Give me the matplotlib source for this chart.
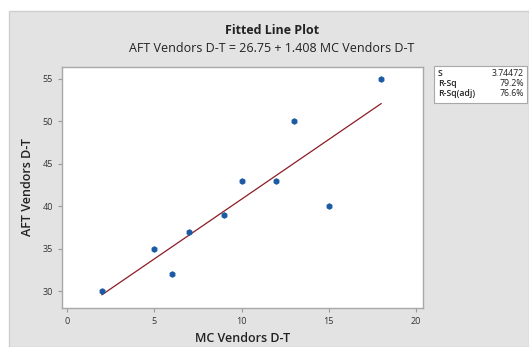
import matplotlib

matplotlib.use("Agg")
import matplotlib.pyplot as plt
import numpy as np
from matplotlib.patches import Rectangle

# dados
mc_vendors = [2, 5, 6, 7, 9, 10, 12, 13, 15, 18]
aft_vendors = [30, 35, 32, 37, 39, 43, 43, 50, 40, 55]
x_ticks = [0, 5, 10, 15, 20]
y_ticks = [30, 35, 40, 45, 50, 55]
stat_names = ["S", "R-Sq", "R-Sq(adj)"]
stat_values = ["3.74472", "79.2%", "76.6%"]

plt.rcParams["font.family"] = ["Open Sans", "DejaVu Sans"]

W, H = 529, 347
fig = plt.figure(figsize=(W / 100, H / 100), dpi=100, facecolor="white")

# painel cinza de fundo
fig.patches.append(Rectangle((9 / W, 0), 1 - 9 / W, 1 - 11 / H, transform=fig.transFigure,
                             facecolor="#e3e3e3", edgecolor="#cfcfcf", lw=1.0, zorder=-1))

ax = fig.add_axes([62 / W, (H - 308) / H, (423 - 62) / W, (308 - 67) / H])
ax.set_zorder(2)
ax.set_facecolor("white")

x = np.array(mc_vendors, dtype=float)
y = np.array(aft_vendors, dtype=float)
b1, b0 = np.polyfit(x, y, 1)
xl = np.array([x.min(), x.max()])
ax.plot(xl, b0 + b1 * xl, color="#8b1c24", lw=0.9, zorder=2)
ax.scatter(x, y, s=14, color="#1c5aa6", edgecolors="#1c5aa6", marker="h", zorder=3)

ax.set_xlim(-0.29, 20.4)
ax.set_ylim(28.0, 56.4)
ax.set_xticks(x_ticks)
ax.set_yticks(y_ticks)
for s in ax.spines.values():
    s.set_color("#a8a8a8")
    s.set_linewidth(1.0)
ax.tick_params(colors="#9a9a9a", labelcolor="#333333", labelsize=6.5, length=3, width=0.8)

ax.set_xlabel("MC Vendors D-T", fontsize=9, fontweight="semibold", color="#222222", labelpad=4)
ax.set_ylabel("AFT Vendors D-T", fontsize=9, fontweight="semibold", color="#222222", labelpad=6)

fig.text(272 / W, 1 - 31 / H, "Fitted Line Plot", ha="center", va="center",
         fontsize=9, fontweight="bold", color="#222222")
fig.text(272 / W, 1 - 48 / H, "AFT Vendors D-T = 26.75 + 1.408 MC Vendors D-T", ha="center",
         va="center", fontsize=9, color="#222222")

# caixa de estatísticas
fig.patches.append(Rectangle((434 / W, 1 - 103 / H), 93 / W, 37 / H, transform=fig.transFigure,
                             facecolor="white", edgecolor="#a8a8a8", lw=0.8, zorder=1))
for i, (nome, val) in enumerate(zip(stat_names, stat_values)):
    yy = 1 - (73 + i * 10.5) / H
    fig.text(438 / W, yy, nome, ha="left", va="center", fontsize=6.3, fontweight="semibold",
             color="#222222")
    fig.text(524 / W, yy, val, ha="right", va="center", fontsize=6.3, color="#222222")

fig.savefig("out.png", dpi=100, facecolor=fig.get_facecolor())
